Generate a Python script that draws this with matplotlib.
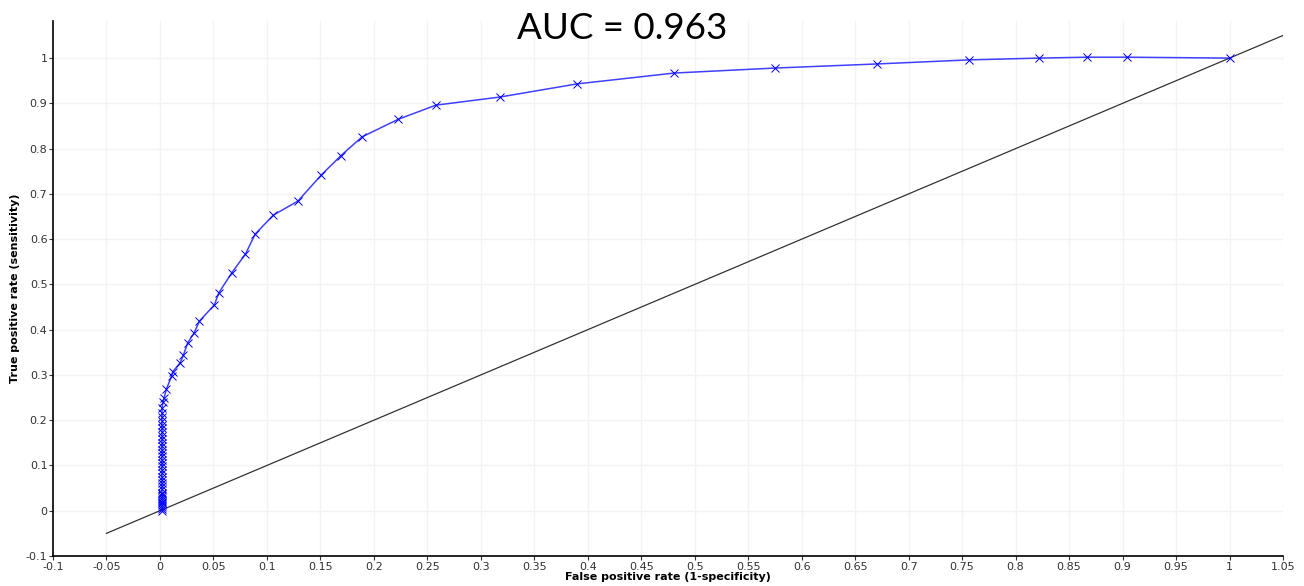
import numpy as np
import matplotlib.pyplot as plt
from matplotlib.ticker import FuncFormatter

# ROC points (false positive rate, true positive rate)
fpr = [0.002, 0.002, 0.002, 0.002, 0.002, 0.002, 0.002, 0.002, 0.002, 0.002,
       0.002, 0.002, 0.002, 0.002, 0.002, 0.002, 0.002, 0.002, 0.002, 0.002,
       0.002, 0.002, 0.002, 0.002, 0.002, 0.002, 0.002, 0.002, 0.002, 0.002,
       0.002, 0.002, 0.002, 0.002, 0.002,
       0.003, 0.004, 0.006, 0.011, 0.012, 0.019, 0.022, 0.026, 0.032, 0.037,
       0.051, 0.055, 0.067, 0.080, 0.089, 0.106, 0.129, 0.151, 0.169, 0.189,
       0.223, 0.258, 0.318, 0.390, 0.481, 0.575, 0.670, 0.756, 0.822, 0.867,
       0.904, 1.0]
tpr = [0.000, 0.004, 0.008, 0.012, 0.016, 0.020, 0.024, 0.028, 0.032, 0.036,
       0.040, 0.047, 0.054, 0.061, 0.068, 0.075, 0.083, 0.090, 0.098, 0.105,
       0.113, 0.120, 0.128, 0.135, 0.143, 0.150, 0.158, 0.166, 0.174, 0.182,
       0.190, 0.198, 0.207, 0.216, 0.228,
       0.240, 0.250, 0.268, 0.298, 0.307, 0.327, 0.344, 0.371, 0.393, 0.419,
       0.455, 0.481, 0.525, 0.567, 0.611, 0.653, 0.684, 0.742, 0.784, 0.826,
       0.865, 0.896, 0.914, 0.943, 0.967, 0.978, 0.987, 0.996, 1.0, 1.002,
       1.002, 1.0]

# chance line
diag_x = [-0.05, 1.05]
diag_y = [-0.05, 1.05]

auc_text = 'AUC = 0.963'

fig = plt.figure(figsize=(13.04, 5.86), dpi=100)
ax = fig.add_axes([0.0406, 0.0512, 0.9433, 0.9130])

ax.plot(diag_x, diag_y, color='black', lw=0.9, alpha=0.8, zorder=2)
ax.plot(fpr, tpr, color='blue', lw=1.1, alpha=0.75, zorder=3)
ax.plot(fpr, tpr, ls='none', marker='x', ms=5.5, mew=0.7, color='blue', zorder=4)

ax.set_xlim(-0.1, 1.05)
ax.set_ylim(-0.1, 1.082)
ax.set_xticks(np.arange(-0.1, 1.051, 0.05))
ax.set_yticks(np.arange(-0.1, 1.001, 0.1))
fmt = FuncFormatter(lambda v, p: ('%g' % round(v, 3)))
ax.xaxis.set_major_formatter(fmt)
ax.yaxis.set_major_formatter(fmt)
ax.tick_params(labelsize=8, length=3, width=0.8, colors='#333333', pad=1)

ax.grid(True, color='#f3f3f3', lw=1)
ax.set_axisbelow(True)
for s in ['top', 'right']:
    ax.spines[s].set_visible(False)
for s in ['left', 'bottom']:
    ax.spines[s].set_linewidth(1.2)

ax.set_xlabel('False positive rate (1-specificity)', fontsize=8, fontweight='bold', labelpad=0)
ax.set_ylabel('True positive rate (sensitivity)', fontsize=8, fontweight='bold', labelpad=4)

fig.text(0.477, 0.952, auc_text, fontsize=26.5, family='Lato', ha='center', va='center')

fig.savefig('out.png', dpi=100)
